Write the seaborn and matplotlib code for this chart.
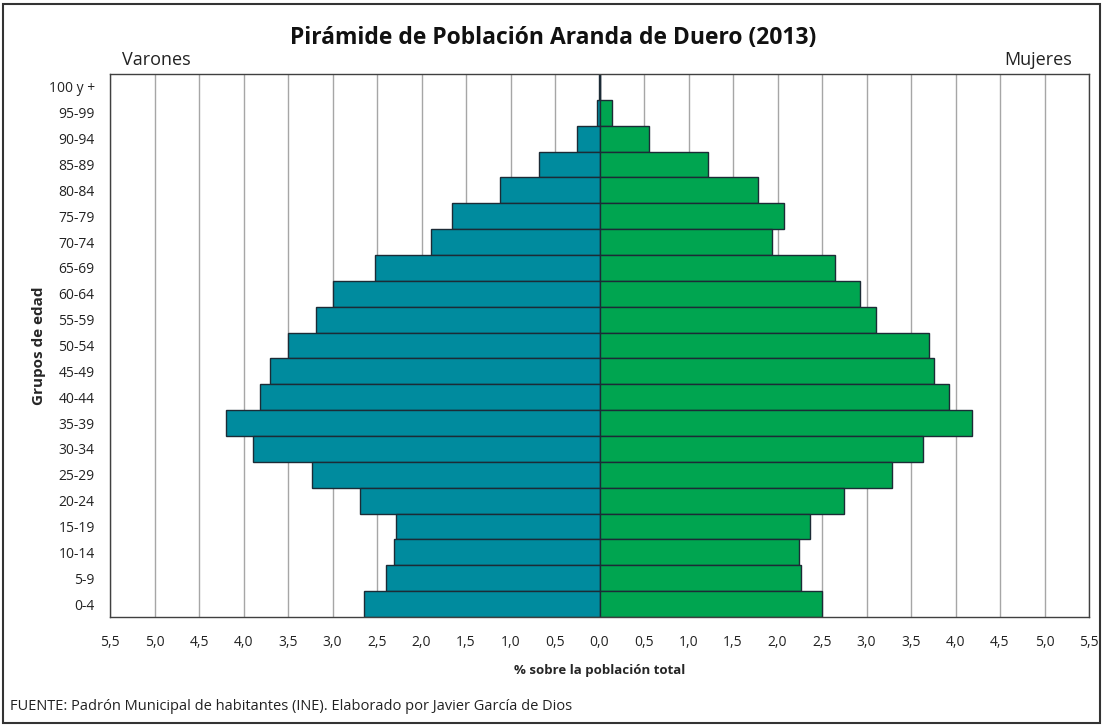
import numpy as np
import pandas as pd
import matplotlib
matplotlib.use("Agg")
import matplotlib.pyplot as plt
import seaborn as sns
from matplotlib import font_manager
from matplotlib.ticker import FuncFormatter, MultipleLocator
from matplotlib.patches import Rectangle

# ---- data ----
age_groups = ["100 y +", "95-99", "90-94", "85-89", "80-84", "75-79", "70-74",
              "65-69", "60-64", "55-59", "50-54", "45-49", "40-44", "35-39",
              "30-34", "25-29", "20-24", "15-19", "10-14", "5-9", "0-4"]
varones = [0.01, 0.03, 0.25, 0.68, 1.12, 1.66, 1.89, 2.52, 3.00, 3.18, 3.50,
           3.70, 3.82, 4.20, 3.89, 3.23, 2.69, 2.29, 2.31, 2.40, 2.65]
mujeres = [0.01, 0.14, 0.56, 1.22, 1.78, 2.07, 1.94, 2.65, 2.93, 3.11, 3.70,
           3.76, 3.93, 4.19, 3.63, 3.29, 2.75, 2.36, 2.24, 2.26, 2.50]

title = "Pirámide de Población Aranda de Duero (2013)"
source = "FUENTE: Padrón Municipal de habitantes (INE). Elaborado por Javier García de Dios"

sns.set_theme(style="white")
available = {f.name for f in font_manager.fontManager.ttflist}
fam = None
for cand in ["Liberation Sans Narrow", "Open Sans", "Noto Sans", "DejaVu Sans"]:
    if cand in available:
        fam = cand
        break
plt.rcParams["font.family"] = [fam, "DejaVu Sans"]

df_m = pd.DataFrame({"grupo": age_groups, "valor": [-v for v in varones]})
df_f = pd.DataFrame({"grupo": age_groups, "valor": mujeres})

fig = plt.figure(figsize=(11.05, 7.27), dpi=100)
ax = fig.add_axes([110/1105, 1-617/727, (1089-110)/1105, (617-74)/727])

teal = "#008B9E"
green = "#00A550"
edge = "#1c2b36"
sns.barplot(data=df_m, y="grupo", x="valor", order=age_groups, orient="h",
            color=teal, saturation=1, width=1.0, edgecolor=edge, linewidth=1.0, ax=ax)
sns.barplot(data=df_f, y="grupo", x="valor", order=age_groups, orient="h",
            color=green, saturation=1, width=1.0, edgecolor=edge, linewidth=1.0, ax=ax)

ax.set_xlim(-5.5, 5.5)
ax.set_ylim(len(age_groups) - 0.5, -0.5)
ax.xaxis.set_major_locator(MultipleLocator(0.5))
ax.xaxis.set_major_formatter(FuncFormatter(lambda v, p: f"{abs(v):.1f}".replace(".", ",")))
ax.set_axisbelow(True)
ax.grid(axis="x", color="#a6a6a6", linewidth=1.0)
ax.grid(axis="y", visible=False)
for s in ax.spines.values():
    s.set_color("#404040")
    s.set_linewidth(1.0)
ax.tick_params(axis="both", length=0, labelsize=10, colors="#222222")
ax.tick_params(axis="x", pad=13)
ax.tick_params(axis="y", pad=11)
ax.set_xlabel("% sobre la población total", fontsize=9.5, fontweight="bold", labelpad=10)
ax.set_ylabel("Grupos de edad", fontsize=11, fontweight="bold", labelpad=2)

fig.text(553/1105, 1-38/727, title, ha="center", va="center", fontsize=16.5, fontweight="bold", color="#111111")
fig.text(122/1105, 1-60/727, "Varones", ha="left", va="center", fontsize=13, color="#222222")
fig.text(1072/1105, 1-60/727, "Mujeres", ha="right", va="center", fontsize=13, color="#222222")
fig.text(10/1105, 1-706/727, source, ha="left", va="center", fontsize=10.5, color="#222222")

fig.add_artist(Rectangle((3/1105, 4/727), 1097/1105, 719/727, transform=fig.transFigure,
                         fill=False, edgecolor="#333333", linewidth=1.5))

fig.savefig("out.png", dpi=100)
